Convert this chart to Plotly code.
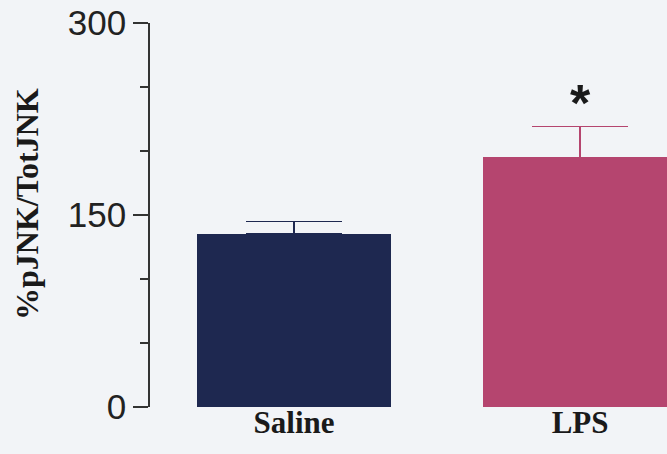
import plotly.graph_objects as go

# Group means and SEM for phosphorylated / total JNK
groups = ["Saline", "LPS"]
pjnk_pct = [135, 195]
pjnk_sem = [10, 24]
bar_colors = ["#1e2850", "#b5456f"]

y_ticks = [0, 150, 300]
y_ticklabels = ["0", "150", "300"]

x_pos = list(range(len(groups)))

fig = go.Figure()
for i, g in enumerate(groups):
    fig.add_trace(go.Bar(
        x=[x_pos[i]], y=[pjnk_pct[i]],
        width=0.678,
        marker=dict(color=bar_colors[i], line=dict(width=0)),
        error_y=dict(type="data", array=[pjnk_sem[i]], symmetric=False,
                     arrayminus=[0], color=bar_colors[i], thickness=1.6, width=48),
        name=g, showlegend=False,
    ))

# significance marker above LPS
fig.add_annotation(
    x=x_pos[1], y=pjnk_pct[1] + pjnk_sem[1], xref="x", yref="y",
    text="<b>*</b>", showarrow=False, yshift=24,
    font=dict(family="Liberation Sans", size=52, color="#1a1a1a"),
)

# y-axis title, placed in paper coordinates left of the axis
fig.add_annotation(
    x=(27 - 150) / 517, y=(407 - 204) / 384, xref="paper", yref="paper",
    xanchor="center", yanchor="middle",
    text="<b>%pJNK/TotJNK</b>", textangle=-90, showarrow=False,
    font=dict(family="Liberation Serif", size=32, color="#1a1a1a"),
)

fig.update_layout(
    width=667, height=454,
    margin=dict(l=150, r=0, t=23, b=47),
    paper_bgcolor="#f2f4f7", plot_bgcolor="#f2f4f7",
    bargap=0,
    xaxis=dict(
        range=[-0.5035, 1.304], tickvals=x_pos,
        ticktext=[f"<b>{g}</b>" for g in groups],
        showline=False, showgrid=False, zeroline=False, ticks="",
        tickfont=dict(family="Liberation Serif", size=31, color="#1a1a1a"),
        ticklabelstandoff=-6,
    ),
    yaxis=dict(
        range=[0, 300], tickvals=y_ticks, ticktext=y_ticklabels,
        showline=True, linecolor="#333333", linewidth=1.6,
        ticks="outside", ticklen=15, tickwidth=1.6, tickcolor="#333333",
        minor=dict(dtick=50, ticks="outside", ticklen=8, tickwidth=1.6, tickcolor="#333333"),
        showgrid=False, zeroline=False,
        tickfont=dict(family="Liberation Sans", size=35, color="#222222"),
    ),
)

fig.write_html("out.html")
